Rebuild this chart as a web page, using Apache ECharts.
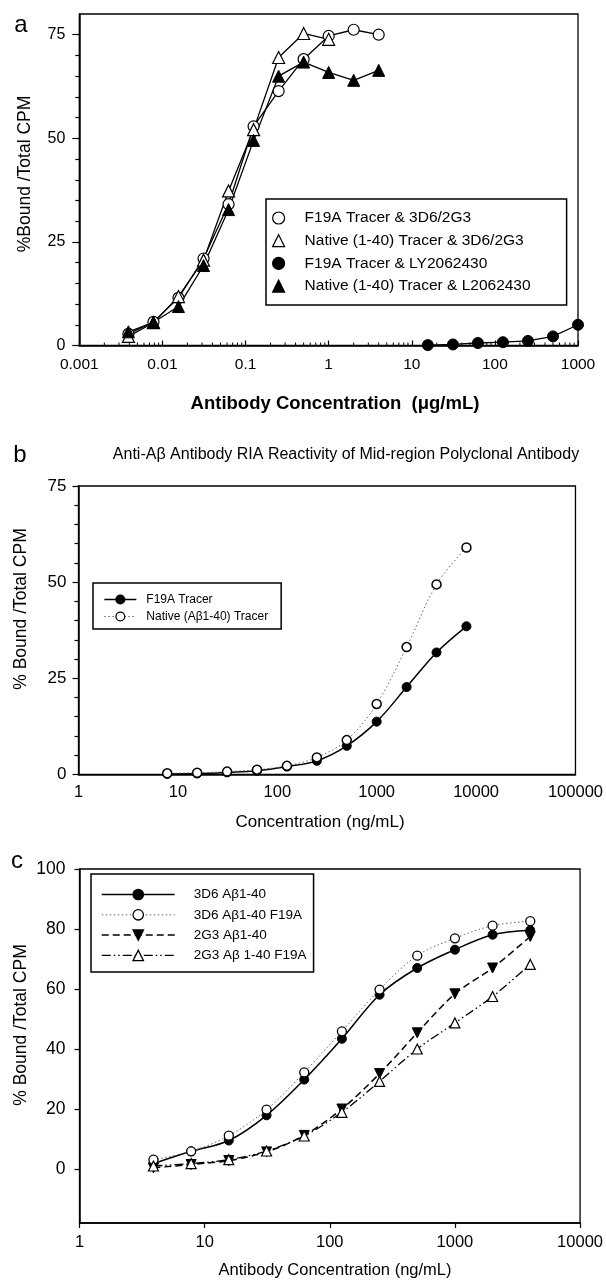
<!DOCTYPE html>
<html>
<head>
<meta charset="utf-8">
<script src="https://cdn.jsdelivr.net/npm/echarts@6/dist/echarts.min.js"></script>
<style>
html,body{margin:0;padding:0;background:#fff;}
#chart{width:606px;height:1281px;}
</style>
</head>
<body>
<div id="chart"></div>
<script>
// ---------- Panel a data ----------
const aConc = [0.0039, 0.0078, 0.0156, 0.03125, 0.0625, 0.125, 0.25, 0.5, 1, 2, 4];
const aF19A_3D6 = [2.8, 5.7, 11.5, 21.0, 34.1, 52.9, 61.4, 69.1, 74.7, 76.2, 75.0];
const aNative_3D6 = [2.2, 5.5, 11.8, 20.6, 37.3, 52.1, 69.5, 75.3, 73.9];
const aNative_LY = [3.3, 5.6, 9.4, 19.3, 32.8, 49.5, 65.0, 68.4, 65.9, 64.0, 66.4];
const aConcLY = [15.6, 31.25, 62.5, 125, 250, 500, 1000];
const aF19A_LY = [0.1, 0.25, 0.6, 0.8, 1.1, 2.2, 5.0];
const aNames = ['F19A Tracer & 3D6/2G3', 'Native (1-40) Tracer & 3D6/2G3', 'F19A Tracer & LY2062430', 'Native (1-40) Tracer & L2062430'];
const aYTicks = [0, 25, 50, 75];
const aYMinor = [5, 10, 15, 20, 30, 35, 40, 45, 55, 60, 65, 70];

// ---------- Panel b data ----------
const bConc = [7.8125, 15.625, 31.25, 62.5, 125, 250, 500, 1000, 2000, 4000, 8000];
const bF19A = [0.1, 0.2, 0.5, 0.9, 2.0, 3.5, 7.4, 13.7, 22.7, 31.7, 38.5];
const bNative = [0.26, 0.4, 0.7, 1.2, 2.2, 4.4, 8.9, 18.3, 33.1, 49.4, 59.0];
const bNames = ['F19A Tracer', 'Native (A\u03b21-40) Tracer'];
const bYTicks = [0, 25, 50, 75];
const bYMinor = [5, 10, 15, 20, 30, 35, 40, 45, 55, 60, 65, 70];

// ---------- Panel c data ----------
const cConc = [3.9, 7.8, 15.6, 31.25, 62.5, 125, 250, 500, 1000, 2000, 4000];
const c3D6 = [1.8, 5.9, 9.5, 17.9, 29.8, 43.4, 58.1, 67.0, 73.1, 78.1, 79.6];
const c3D6F = [3.1, 5.9, 11.1, 19.8, 32.2, 45.9, 59.8, 71.1, 76.9, 81.1, 82.6];
const c2G3 = [0.4, 1.5, 2.8, 5.7, 11.2, 20.0, 31.8, 45.4, 58.4, 67.0, 77.5];
const c2G3F = [1.0, 1.8, 3.1, 6.0, 11.0, 18.9, 29.2, 40.0, 48.7, 57.5, 68.2];
const cNames = ['3D6 A\u03b21-40', '3D6 A\u03b21-40 F19A', '2G3 A\u03b21-40', '2G3 A\u03b2 1-40 F19A'];
const cYTicks = [0, 20, 40, 60, 80, 100];

// minor log tick positions for panel a x axis
const aMinorX = [];
for (let e = -3; e < 3; e++) for (let m = 2; m <= 9; m++) aMinorX.push(+(m * Math.pow(10, e)).toPrecision(3));

const FONT = '"Liberation Sans", Arial, sans-serif';
const zip = (xs, ys) => ys.map((y, i) => [xs[i], y]);
const logFmt = v => String(+(+v).toPrecision(6));

function lineSeries(name, xi, xs, ys, o) {
  return {
    type: 'line', name: name, xAxisIndex: xi, yAxisIndex: o.yi, data: zip(xs, ys),
    symbol: o.symbol, symbolSize: o.size, symbolRotate: o.rotate || 0,
    smooth: o.smooth || false,
    lineStyle: { color: o.lineColor || '#000', width: o.width, type: o.type || 'solid' },
    itemStyle: { color: o.fill, borderColor: '#000', borderWidth: o.bw },
    showSymbol: true, emphasis: { disabled: true }, animation: false, z: o.z || 2
  };
}

const chart = echarts.init(document.getElementById('chart'), null, { renderer: 'canvas' });

const axisLineStyle = { color: '#000', width: 1.5 };

const option = {
  animation: false,
  backgroundColor: '#fff',
  textStyle: { fontFamily: FONT, color: '#000' },
  grid: [
    { left: 79.3, top: 14, width: 498.7, height: 331.5, show: true, borderColor: '#000', borderWidth: 1.3 },
    { left: 78.5, top: 486, width: 503.5, height: 288.3, show: true, borderColor: '#000', borderWidth: 1.3 },
    { left: 79.5, top: 869, width: 506, height: 354, show: true, borderColor: '#000', borderWidth: 1.3 }
  ],
  xAxis: [
    { gridIndex: 0, type: 'log', logBase: 10, min: 0.001, max: 1000,
      axisLine: { show: true, onZero: false, lineStyle: axisLineStyle },
      axisTick: { show: true, inside: true, length: 5, lineStyle: { color: '#000', width: 1.2 } },
      axisLabel: { color: '#000', fontSize: 15.5, fontFamily: FONT, margin: 11, formatter: logFmt },
      splitLine: { show: false }, minorTick: { show: false } },
    { gridIndex: 1, type: 'log', logBase: 10, min: 1, max: 100000,
      axisLine: { show: true, onZero: false, lineStyle: axisLineStyle },
      axisTick: { show: false },
      axisLabel: { color: '#000', fontSize: 16.5, fontFamily: FONT, margin: 10, formatter: logFmt },
      splitLine: { show: false } },
    { gridIndex: 2, type: 'log', logBase: 10, min: 1, max: 10000,
      axisLine: { show: true, onZero: false, lineStyle: axisLineStyle },
      axisTick: { show: true, inside: false, length: 5, lineStyle: { color: '#000', width: 1.2 } },
      axisLabel: { color: '#000', fontSize: 16.5, fontFamily: FONT, margin: 11, formatter: logFmt },
      splitLine: { show: false } }
  ],
  yAxis: [
    { gridIndex: 0, type: 'value', position: 'left', min: 0, max: 80,
      axisLine: { show: true, onZero: false, lineStyle: axisLineStyle },
      axisTick: { show: true, length: 7, customValues: aYTicks, lineStyle: { color: '#000', width: 1.2 } },
      axisLabel: { customValues: aYTicks, color: '#000', fontSize: 16, fontFamily: FONT, margin: 14 },
      splitLine: { show: false } },
    { gridIndex: 0, type: 'value', position: 'left', min: 0, max: 80,
      axisLine: { show: false, onZero: false },
      axisTick: { show: true, length: 4, customValues: aYMinor, lineStyle: { color: '#000', width: 1.2 } },
      axisLabel: { show: false }, splitLine: { show: false } },
    { gridIndex: 1, type: 'value', position: 'left', min: 0, max: 75,
      axisLine: { show: true, onZero: false, lineStyle: axisLineStyle },
      axisTick: { show: true, length: 6, customValues: bYTicks, lineStyle: { color: '#000', width: 1.2 } },
      axisLabel: { customValues: bYTicks, color: '#000', fontSize: 17, fontFamily: FONT, margin: 12 },
      splitLine: { show: false } },
    { gridIndex: 1, type: 'value', position: 'left', min: 0, max: 75,
      axisLine: { show: false, onZero: false },
      axisTick: { show: true, length: 4, customValues: bYMinor, lineStyle: { color: '#000', width: 1.2 } },
      axisLabel: { show: false }, splitLine: { show: false } },
    { gridIndex: 2, type: 'value', position: 'left', min: -18, max: 100,
      axisLine: { show: true, onZero: false, lineStyle: axisLineStyle },
      axisTick: { show: true, length: 5, customValues: cYTicks, lineStyle: { color: '#000', width: 1.2 } },
      axisLabel: { customValues: cYTicks, color: '#000', fontSize: 17.5, fontFamily: FONT, margin: 14 },
      splitLine: { show: false } }
  ],
  legend: [
    { left: 266, top: 199, orient: 'vertical', selectedMode: false,
      padding: [11, 36, 11, 6], itemGap: 6.7, itemWidth: 12, itemHeight: 12,
      borderColor: '#000', borderWidth: 1.5, backgroundColor: '#fff',
      itemStyle: { borderWidth: 1.2 },
      textStyle: { fontSize: 15.5, fontFamily: FONT, color: '#000', padding: [0, 0, 0, 15] },
      data: [ { name: aNames[0], icon: 'circle' }, { name: aNames[1], icon: 'triangle' },
              { name: aNames[2], icon: 'circle' }, { name: aNames[3], icon: 'triangle' } ] },
    { left: 93, top: 583, orient: 'vertical', selectedMode: false,
      padding: [10.5, 13, 6.5, 10.6], itemGap: 5, itemWidth: 32, itemHeight: 11,
      borderColor: '#000', borderWidth: 1.5, backgroundColor: '#fff',
      itemStyle: { borderWidth: 1.3 },
      textStyle: { fontSize: 12, fontFamily: FONT, color: '#000', padding: [0, 0, 0, 5] },
      data: [ { name: bNames[0], lineStyle: { width: 1.5 } }, { name: bNames[1], lineStyle: { width: 1 } } ] },
    { left: 91, top: 874, orient: 'vertical', selectedMode: false,
      padding: [13.5, 7, 9.5, 10], itemGap: 6.3, itemWidth: 73, itemHeight: 13,
      borderColor: '#000', borderWidth: 1.5, backgroundColor: '#fff',
      itemStyle: { borderWidth: 1.3 },
      textStyle: { fontSize: 13.5, fontFamily: FONT, color: '#000', padding: [0, 0, 0, 14] },
      data: [ { name: cNames[0], lineStyle: { width: 1.5 } }, { name: cNames[1], lineStyle: { width: 1 } },
              { name: cNames[2], lineStyle: { width: 1.5 } }, { name: cNames[3], lineStyle: { width: 1.3 } } ] }
  ],
  graphic: [
    { type: 'text', x: 21, y: 25, style: { text: 'a', font: '24px ' + FONT, fill: '#000', textAlign: 'center', textVerticalAlign: 'middle' } },
    { type: 'text', x: 335, y: 403.5, style: { text: 'Antibody Concentration  (\u03bcg/mL)', font: 'bold 18.5px ' + FONT, fill: '#000', textAlign: 'center', textVerticalAlign: 'middle' } },
    { type: 'text', x: 25, y: 174, rotation: Math.PI / 2, style: { text: '%Bound /Total CPM', font: '17.5px ' + FONT, fill: '#000', textAlign: 'center', textVerticalAlign: 'middle' } },

    { type: 'text', x: 20, y: 455, style: { text: 'b', font: '24px ' + FONT, fill: '#000', textAlign: 'center', textVerticalAlign: 'middle' } },
    { type: 'text', x: 346, y: 455, style: { text: 'Anti-A\u03b2 Antibody RIA Reactivity of Mid-region Polyclonal Antibody', font: '16px ' + FONT, fill: '#000', textAlign: 'center', textVerticalAlign: 'middle' } },
    { type: 'text', x: 320, y: 822, style: { text: 'Concentration (ng/mL)', font: '17px ' + FONT, fill: '#000', textAlign: 'center', textVerticalAlign: 'middle' } },
    { type: 'text', x: 21, y: 609, rotation: Math.PI / 2, style: { text: '% Bound /Total CPM', font: '17.5px ' + FONT, fill: '#000', textAlign: 'center', textVerticalAlign: 'middle' } },

    { type: 'text', x: 17, y: 861, style: { text: 'c', font: '24px ' + FONT, fill: '#000', textAlign: 'center', textVerticalAlign: 'middle' } },
    { type: 'text', x: 335, y: 1270, style: { text: 'Antibody Concentration (ng/mL)', font: '16.5px ' + FONT, fill: '#000', textAlign: 'center', textVerticalAlign: 'middle' } },
    { type: 'text', x: 21, y: 1025, rotation: Math.PI / 2, style: { text: '% Bound /Total CPM', font: '17.5px ' + FONT, fill: '#000', textAlign: 'center', textVerticalAlign: 'middle' } }
  ],
  series: [
    // panel a
    lineSeries(aNames[0], 0, aConc, aF19A_3D6, { yi: 0, symbol: 'circle', size: 11, fill: '#fff', bw: 1.2, width: 1.3 }),
    lineSeries(aNames[1], 0, aConc, aNative_3D6, { yi: 0, symbol: 'triangle', size: 12, fill: '#fff', bw: 1.2, width: 1.3 }),
    lineSeries(aNames[2], 0, aConcLY, aF19A_LY, { yi: 0, symbol: 'circle', size: 11, fill: '#000', bw: 1, width: 1.3 }),
    lineSeries(aNames[3], 0, aConc, aNative_LY, { yi: 0, symbol: 'triangle', size: 12, fill: '#000', bw: 1, width: 1.3 }),
    { type: 'custom', xAxisIndex: 0, yAxisIndex: 0, silent: true, clip: false, z: 1,
      data: aMinorX.map(v => [v, 0]),
      renderItem: function (params, api) {
        const p = api.coord([api.value(0), api.value(1)]);
        return { type: 'line', shape: { x1: p[0], y1: p[1], x2: p[0], y2: p[1] - 3 }, style: { stroke: '#000', lineWidth: 1 } };
      } },
    // panel b
    lineSeries(bNames[0], 1, bConc, bF19A, { yi: 2, symbol: 'circle', size: 9, fill: '#000', bw: 1, width: 1.5, smooth: 0.35 }),
    lineSeries(bNames[1], 1, bConc, bNative, { yi: 2, symbol: 'circle', size: 9, fill: '#fff', bw: 1.5, width: 1, smooth: 0.35, type: [1.5, 2.5], lineColor: '#666', z: 3 }),
    // panel c
    lineSeries(cNames[0], 2, cConc, c3D6, { yi: 4, symbol: 'circle', size: 9, fill: '#000', bw: 1, width: 1.5, smooth: 0.35 }),
    lineSeries(cNames[1], 2, cConc, c3D6F, { yi: 4, symbol: 'circle', size: 9, fill: '#fff', bw: 1.3, width: 1, smooth: 0.35, type: [1.5, 2.5], lineColor: '#666', z: 3 }),
    lineSeries(cNames[2], 2, cConc, c2G3, { yi: 4, symbol: 'triangle', rotate: 180, size: 10, fill: '#000', bw: 1, width: 1.5, smooth: 0.3, type: [7, 4] }),
    lineSeries(cNames[3], 2, cConc, c2G3F, { yi: 4, symbol: 'triangle', size: 10, fill: '#fff', bw: 1.2, width: 1.3, smooth: 0.3, type: [9, 3, 1.5, 3, 1.5, 3], z: 3 })
  ]
};

chart.setOption(option);
</script>
</body>
</html>
